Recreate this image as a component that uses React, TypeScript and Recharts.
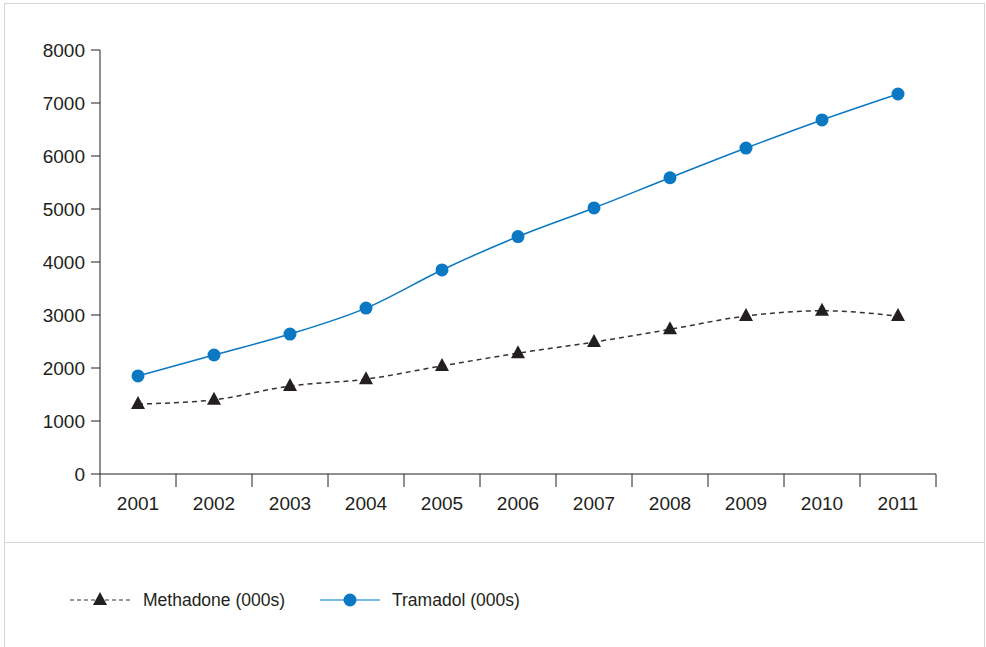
import React from 'react';
import { LineChart, Line, XAxis, YAxis } from 'recharts';

// ── Data ────────────────────────────────────────────────────────────
const years = [2001, 2002, 2003, 2004, 2005, 2006, 2007, 2008, 2009, 2010, 2011];
const methadone = [1320, 1400, 1660, 1790, 2040, 2280, 2490, 2730, 2980, 3080, 2980];
const tramadol = [1850, 2245, 2640, 3130, 3850, 4480, 5020, 5590, 6150, 6680, 7170];
const yTicks = [0, 1000, 2000, 3000, 4000, 5000, 6000, 7000, 8000];

const data = years.map((year, i) => ({ year, methadone: methadone[i], tramadol: tramadol[i] }));

const INK = '#231f20';
const BLUE = '#0a78c2';
const FONT = '"Liberation Sans", Arial, Helvetica, sans-serif';
const HALF_BAND = (936 - 100) / years.length / 2;

function Triangle({ cx, cy }: any) {
  if (cx == null || cy == null) return null;
  return <path d={`M${cx},${cy - 8} L${cx + 7},${cy + 5} L${cx - 7},${cy + 5} Z`} fill={INK} />;
}

function Dot({ cx, cy }: any) {
  if (cx == null || cy == null) return null;
  return <circle cx={cx} cy={cy} r={6.5} fill={BLUE} />;
}

// year label centred in its band, tick marks on the band edges
function YearTick({ x, y, payload, index }: any) {
  const last = index === years.length - 1;
  const top = y - 8;
  return (
    <g>
      <line x1={x - HALF_BAND} x2={x - HALF_BAND} y1={top} y2={top + 13} stroke={INK} />
      {last && <line x1={x + HALF_BAND} x2={x + HALF_BAND} y1={top} y2={top + 13} stroke={INK} />}
      <text x={x} y={top + 36} textAnchor="middle" fontSize={19} fill={INK} fontFamily={FONT}>
        {payload.value}
      </text>
    </g>
  );
}

export default function App() {
  return (
    <div style={{ position: 'relative', width: 986, height: 647, background: '#fff', fontFamily: FONT }}>
      <style>{`body{margin:0}`}</style>
      {/* frame */}
      <div style={{ position: 'absolute', left: 4, top: 3, width: 979, height: 660, border: '1px solid #d6d6d6', borderBottom: 'none' }} />
      <div style={{ position: 'absolute', left: 4, top: 542, width: 980, height: 1, background: '#d6d6d6' }} />

      <div style={{ position: 'absolute', left: 0, top: 0 }}>
        <LineChart width={986} height={647} data={data} margin={{ top: 50, right: 50, left: 0, bottom: 133 }}>
          <XAxis
            dataKey="year"
            type="number"
            domain={[2000.5, 2011.5]}
            ticks={years}
            interval={0}
            height={40}
            tick={<YearTick />}
            tickLine={false}
            axisLine={{ stroke: INK }}
          />
          <YAxis
            domain={[0, 8000]}
            ticks={yTicks}
            interval={0}
            width={100}
            tickSize={9}
            tickMargin={6}
            tickLine={{ stroke: INK }}
            axisLine={{ stroke: INK }}
            tick={{ fontSize: 19, fill: INK, fontFamily: FONT }}
          />
          <Line
            type="monotone"
            dataKey="methadone"
            stroke="#333"
            strokeWidth={1.5}
            strokeDasharray="5 4"
            dot={<Triangle />}
            activeDot={false}
            isAnimationActive={false}
          />
          <Line
            type="monotone"
            dataKey="tramadol"
            stroke={BLUE}
            strokeWidth={1.5}
            dot={<Dot />}
            activeDot={false}
            isAnimationActive={false}
          />
        </LineChart>
      </div>

      {/* legend */}
      <svg style={{ position: 'absolute', left: 0, top: 580 }} width={600} height={40}>
        <line x1={70} x2={130} y1={20} y2={20} stroke="#333" strokeWidth={1.2} strokeDasharray="4 3" />
        <path d="M100,12 L107,25 L93,25 Z" fill={INK} />
        <text x={143} y={26} fontSize={17.5} fill={INK} fontFamily={FONT}>Methadone (000s)</text>
        <line x1={320} x2={380} y1={20} y2={20} stroke="#4aa3d8" strokeWidth={1.5} />
        <circle cx={350} cy={20} r={6.5} fill={BLUE} />
        <text x={392} y={26} fontSize={17.5} fill={INK} fontFamily={FONT}>Tramadol (000s)</text>
      </svg>
    </div>
  );
}
